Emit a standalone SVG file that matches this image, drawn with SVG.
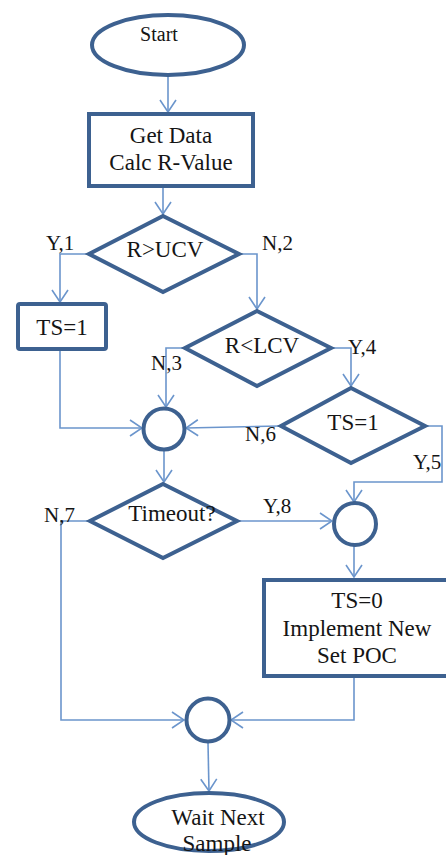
<svg xmlns="http://www.w3.org/2000/svg" width="446" height="855" viewBox="0 0 446 855">
<defs>
<marker id="arr" markerUnits="userSpaceOnUse" markerWidth="14" markerHeight="18" viewBox="0 0 14 18" refX="13" refY="9" orient="auto">
<path d="M1,1 L13,9 L1,17" fill="none" stroke="#6b95cc" stroke-width="1.6"/>
</marker>
</defs>
<style>
.n{fill:#fff;stroke:#3d6190;stroke-width:4}
.c{fill:none;stroke:#6b95cc;stroke-width:1.6}
.a{marker-end:url(#arr)}
text{font-family:"Liberation Serif","Times New Roman",serif;fill:#151515;text-anchor:middle}
.t{font-size:23px}
.s{font-size:20px}
.l{font-size:21px;text-anchor:start}
</style>
<rect width="446" height="855" fill="#fff"/>
<g id="connectors">
<path class="c a" d="M168,75 V112"/>
<path class="c a" d="M163,187 V214"/>
<path class="c a" d="M88,254 H60 V302"/>
<path class="c a" d="M239,254 H257 V309"/>
<path class="c a" d="M185,348 H166 V407"/>
<path class="c a" d="M332,348 H351 V386"/>
<path class="c a" d="M60,350 V428 H142"/>
<path class="c a" d="M280,426 L186,428"/>
<path class="c a" d="M426,426 H442 V482 H354 V502"/>
<path class="c a" d="M164,450 V482"/>
<path class="c a" d="M238,521 H332"/>
<path class="c a" d="M354,545 V577"/>
<path class="c a" d="M89,521 H61 V720 H184"/>
<path class="c a" d="M354,677 V720 H231"/>
<path class="c a" d="M208,743 L209,791"/>
</g>
<g id="start">
<ellipse class="n" cx="168" cy="45" rx="76" ry="30"/>
<text class="s" x="159" y="41">Start</text>
</g>
<g id="getdata">
<rect class="n" x="89" y="114" width="164" height="72"/>
<text class="t" x="171" y="143">Get Data</text>
<text class="t" x="171" y="170">Calc R-Value</text>
</g>
<g id="ucv">
<path class="n" d="M163,216 L239,254 L163,292 L89,254 Z" stroke-linejoin="miter"/>
<text class="t" x="165" y="257">R&gt;UCV</text>
</g>
<g id="ts1box">
<rect class="n" x="18" y="304" width="88" height="45" rx="2" stroke-width="5"/>
<text class="t" x="62" y="335">TS=1</text>
</g>
<g id="lcv">
<path class="n" d="M257,311 L331,348 L257,386 L185,348 Z"/>
<text class="t" x="262" y="353">R&lt;LCV</text>
</g>
<g id="ts1dia">
<path class="n" d="M351,388 L425,426 L351,463 L281,426 Z"/>
<text class="t" x="353" y="430">TS=1</text>
</g>
<g id="join1">
<circle class="n" cx="164" cy="429" r="20.5"/>
</g>
<g id="timeout">
<path class="n" d="M163,484 L237,521 L163,558 L90,521 Z"/>
<text class="t" x="172" y="521">Timeout?</text>
</g>
<g id="join2">
<circle class="n" cx="355" cy="524" r="21"/>
</g>
<g id="ts0box">
<rect class="n" x="264" y="580" width="190" height="96"/>
<text class="t" x="357" y="608">TS=0</text>
<text class="t" x="357" y="636">Implement New</text>
<text class="t" x="357" y="663">Set POC</text>
</g>
<g id="join3">
<circle class="n" cx="208" cy="720" r="21.5"/>
</g>
<g id="wait">
<ellipse class="n" cx="209" cy="822" rx="75" ry="29"/>
<text class="t" x="218" y="825">Wait Next</text>
<text class="t" x="217" y="851">Sample</text>
</g>
<g id="labels">
<text class="l" x="46" y="250">Y,1</text>
<text class="l" x="262" y="250">N,2</text>
<text class="l" x="151" y="370">N,3</text>
<text class="l" x="348" y="354">Y,4</text>
<text class="l" x="245" y="441">N,6</text>
<text class="l" x="413" y="469">Y,5</text>
<text class="l" x="44" y="522">N,7</text>
<text class="l" x="263" y="513">Y,8</text>
</g>
</svg>
